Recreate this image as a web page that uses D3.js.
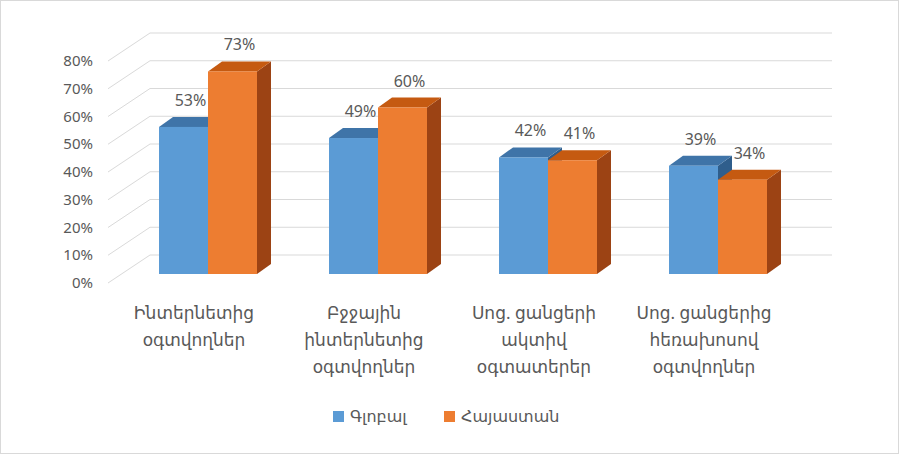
<!DOCTYPE html>
<html><head><meta charset="utf-8">
<script src="https://d3js.org/d3.v7.min.js"></script>
<style>body{margin:0;background:#fff}text{font-family:"Noto Sans","DejaVu Sans",sans-serif;fill:#595959}</style>
</head><body><svg id="c" width="899" height="454"></svg>
<script>
const categories=[["Ինտերնետից","օգտվողներ"],["Բջջային","ինտերնետից","օգտվողներ"],["Սոց. ցանցերի","ակտիվ","օգտատերեր"],["Սոց. ցանցերից","հեռախոսով","օգտվողներ"]];
const seriesNames=["Գլոբալ","Հայաստան"];
const globalVals=[53,49,42,39];
const armeniaVals=[73,60,41,34];
const ticks=[0,10,20,30,40,50,60,70,80];
const colors=[{f:"#5B9BD5",t:"#3F74A8",s:"#2F5E8C"},{f:"#ED7D31",t:"#C55A11",s:"#9C4314"}];
const svg=d3.select("#c");
svg.append("rect").attr("x",0.5).attr("y",0.5).attr("width",898).attr("height",453).attr("fill","#fff").attr("stroke","#d9d9d9");
const y=d3.scaleLinear().domain([0,80]).range([283,61]);
const WX=42,WY=-28,x0=108,x1=832-WX;
ticks.forEach(v=>{
  const yy=y(v);
  svg.append("path").attr("d",`M${x0},${yy}L${x0+WX},${yy+WY}L${832},${yy+WY}`).attr("fill","none").attr("stroke","#d9d9d9");
  svg.append("text").attr("x",93).attr("y",yy+5).attr("text-anchor","end").attr("font-size",15).text(v+"%");
});
const xb=d3.scaleBand().domain(d3.range(4)).range([123,803]);
const BW=49,DX=14,DY=-10,base=274;
const yb=v=>base-(y(0)-y(v));
[globalVals,armeniaVals].forEach((vals,si)=>{
  const c=colors[si];
  vals.forEach((v,i)=>{
    const cx=xb(i)+xb.bandwidth()/2;
    const xl=cx-BW+si*BW, xr=xl+BW, yt=yb(v);
    svg.append("path").attr("d",`M${xr},${yt}L${xr+DX},${yt+DY}L${xr+DX},${base+DY}L${xr},${base}Z`).attr("fill",c.s);
    svg.append("path").attr("d",`M${xl},${yt}L${xl+DX},${yt+DY}L${xr+DX},${yt+DY}L${xr},${yt}Z`).attr("fill",c.t);
    svg.append("rect").attr("x",xl).attr("y",yt).attr("width",BW).attr("height",base-yt).attr("fill",c.f);
    svg.append("text").attr("x",(xl+xr)/2+DX/2).attr("y",yt+DY-11).attr("text-anchor","middle").attr("font-size",16).text(v+"%");
  });
});
categories.forEach((lines,i)=>{
  const cx=xb(i)+xb.bandwidth()/2-14;
  lines.forEach((l,j)=>svg.append("text").attr("x",cx).attr("y",319+j*27).attr("text-anchor","middle").attr("font-size",17).text(l));
});
const lx=[333,444];
seriesNames.forEach((n,i)=>{
  svg.append("rect").attr("x",lx[i]).attr("y",411).attr("width",11).attr("height",11).attr("fill",colors[i].f);
  svg.append("text").attr("x",lx[i]+17).attr("y",422).attr("font-size",16).text(n);
});
</script></body></html>
